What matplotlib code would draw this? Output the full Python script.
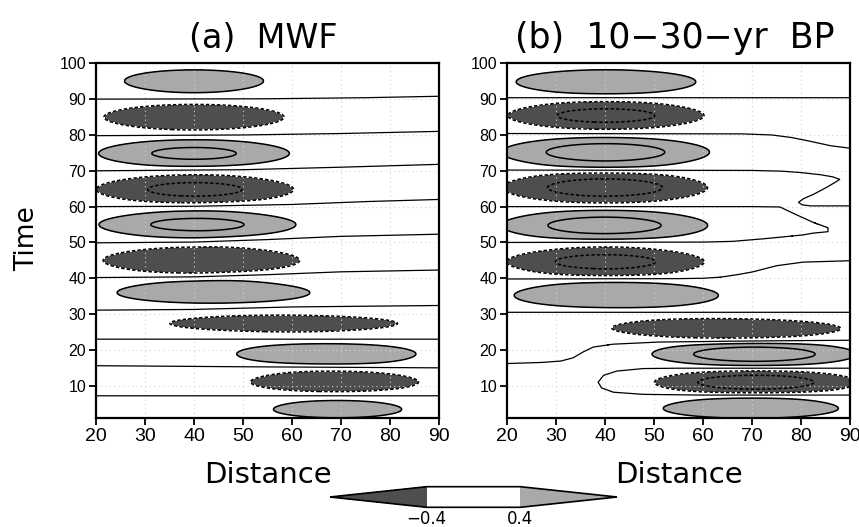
import numpy as np
import matplotlib
matplotlib.use("Agg")
import matplotlib.pyplot as plt
from matplotlib import font_manager
from matplotlib.colors import ListedColormap, BoundaryNorm
from matplotlib.cm import ScalarMappable

plt.rcParams["font.family"] = ["DejaVu Sans"]

# ---------------- axes / legend values ----------------
distance_ticks = [20, 30, 40, 50, 60, 70, 80, 90]
time_ticks = [10, 20, 30, 40, 50, 60, 70, 80, 90, 100]
shade_bounds = [-0.4, 0.4]
line_levels_neg = [-0.8, -0.4]
line_levels_pos = [0.4, 0.8]

# ---------------- (a) MWF ----------------
# anomaly centres: distance, time, half-length / half-height of the |0.4| contour, peak value
mwf_dist = [40.0, 40.0, 40.0, 40.2, 40.7, 41.5, 44.0, 58.3, 67.0, 68.7, 69.3]
mwf_time = [95.1, 85.0, 74.85, 64.8, 55.0, 45.0, 35.9, 27.4, 18.9, 11.0, 3.4]
mwf_halfx = [12.7, 16.5, 18.0, 18.7, 18.6, 18.0, 17.5, 20.8, 16.4, 15.3, 11.7]
mwf_halft = [2.75, 3.1, 3.35, 3.6, 3.25, 3.25, 2.6, 2.0, 2.7, 2.45, 2.1]
mwf_peak = [0.7, -0.7, 0.9, -0.94, 0.93, -0.7, 0.7, -0.7, 0.7, -0.7, 0.7]

# zero contours (distance, time vertices)
mwf_zero_x = [
    [20, 55, 75, 90],
    [20, 50, 70, 90],
    [20, 50, 70, 90],
    [20, 40, 60, 75, 90],
    [20, 40, 55, 70, 90],
    [20, 40, 55, 70, 90],
    [20, 40, 60, 90],
    [20, 90],
    [20, 50, 90],
    [20, 90],
]
mwf_zero_t = [
    [90.0, 90.1, 90.4, 90.8],
    [79.8, 80.0, 80.4, 81.0],
    [70.0, 70.3, 71.0, 71.8],
    [60.0, 60.1, 60.6, 61.4, 62.0],
    [49.9, 50.1, 50.8, 51.7, 52.3],
    [40.2, 40.4, 41.0, 41.8, 42.3],
    [31.1, 31.3, 32.0, 32.4],
    [23.0, 23.0],
    [15.6, 15.3, 15.0],
    [7.2, 7.2],
]

# ---------------- (b) 10-30-yr band-pass ----------------
bp_dist = [40.2, 40.2, 40.1, 40.0, 39.9, 40.1, 42.3, 64.9, 70.5, 70.8, 69.75]
bp_time = [94.85, 85.4, 75.2, 65.3, 54.75, 44.65, 35.2, 26.0, 18.8, 11.0, 3.65]
bp_halfx = [16.45, 18.6, 19.9, 19.6, 19.7, 18.7, 18.7, 20.8, 19.6, 19.4, 16.0]
bp_halft = [3.0, 3.4, 3.85, 3.9, 3.85, 3.45, 3.2, 2.35, 3.05, 3.1, 2.45]
bp_peak = [0.7, -0.96, 1.08, -1.06, 1.04, -0.97, 0.7, -0.7, 1.13, -1.08, 0.7]

bp_zero_x = [
    [20, 90],
    [20, 68, 74, 78, 82, 86, 90],
    [20, 70, 76, 80, 84, 86.5, 87.9, 87.0, 85.0, 82.5, 80.5, 79.5, 80.2, 82, 90],
    [20, 60, 70, 75.7, 79.1, 82.5, 85.5, 85.5, 82.5, 80.4, 76, 72.2, 66, 60, 20],
    [20, 55, 60, 63.5, 67, 70.2, 75, 80.4, 90],
    [20, 90],
    [20, 27, 31, 33.5, 35.5, 37.6, 41.6, 51, 70, 90],
    [90, 70, 55, 47.8, 42.4, 39.7, 38.6, 39.3, 41.7, 47.8, 59.4, 75, 90],
]
bp_zero_t = [
    [90.4, 90.4],
    [80.4, 80.3, 80.0, 79.3, 78.2, 77.0, 76.3],
    [70.2, 70.1, 69.9, 69.5, 68.9, 68.3, 67.6, 66.8, 65.2, 63.4, 62.2, 61.2, 60.5, 60.2, 60.2],
    [60.0, 60.0, 60.0, 59.9, 57.7, 55.6, 54.1, 53.0, 52.6, 52.1, 51.5, 51.0, 50.3, 50.1, 50.0],
    [39.8, 39.9, 40.0, 40.3, 41.0, 41.8, 43.5, 44.5, 44.9],
    [30.5, 30.5],
    [16.2, 16.5, 16.9, 17.8, 19.4, 20.8, 21.6, 22.2, 22.5, 22.7],
    [14.9, 14.9, 14.9, 14.8, 14.1, 12.9, 11.0, 9.4, 8.2, 7.6, 7.4, 7.4, 7.4],
]

DARK = "#4e4e4e"
LIGHT = "#a9a9a9"


def has_font(name):
    try:
        font_manager.findfont(font_manager.FontProperties(family=name),
                              fallback_to_default=False)
        return True
    except ValueError:
        return False


NARROW = has_font("Liberation Sans Narrow")
if NARROW:
    TICK_FONT, XT_SIZE, YT_SIZE = "Liberation Sans Narrow", 15.5, 12.5
    LABEL_FONT, TIME_SIZE = "Liberation Sans Narrow", 24
else:
    TICK_FONT, XT_SIZE, YT_SIZE = "Liberation Sans", 14, 11.5
    LABEL_FONT, TIME_SIZE = "DejaVu Sans", 19


def build_field(dist, time, halfx, halft, peak, zero_x, zero_t):
    """Signed anomaly field: sign flips across each zero contour,
    magnitude is a sum of elliptical Gaussian centres."""
    xg = np.linspace(20, 90, 701)
    tg = np.linspace(1, 100, 991)
    X, T = np.meshgrid(xg, tg)

    mag = np.full(X.shape, 0.05)
    for xc, tc, hx, ht, pk in zip(dist, time, halfx, halft, peak):
        k = np.sqrt(np.log(abs(pk) / 0.4))
        sx, st = hx / k, ht / k
        mag += abs(pk) * np.exp(-((X - xc) / sx) ** 2 - ((T - tc) / st) ** 2)

    # sign: parity of zero-contour crossings below each point (positive at the bottom)
    count = np.zeros(X.shape, dtype=int)
    dmin = np.full(X.shape, np.inf)
    xscale = 4.0
    Xs = X / xscale
    for px, pt in zip(zero_x, zero_t):
        px = list(px)
        pt = list(pt)
        # carry the end points just past the frame
        px = [px[0] + (-1 if px[0] <= 20 else 1)] + px + [px[-1] + (-1 if px[-1] <= 20 else 1)]
        pt = [pt[0]] + pt + [pt[-1]]
        for i in range(len(px) - 1):
            x0, t0, x1, t1 = px[i], pt[i], px[i + 1], pt[i + 1]
            if x0 != x1:
                lo, hi = min(x0, x1), max(x0, x1)
                inside = (xg >= lo) & (xg < hi)
                tc = t0 + (xg - x0) * (t1 - t0) / (x1 - x0)
                count += (inside[None, :] & (T > tc[None, :])).astype(int)
            ax_, bx = x0 / xscale, x1 / xscale
            dx, dt = bx - ax_, t1 - t0
            L2 = dx * dx + dt * dt
            if L2 == 0:
                d = np.hypot(Xs - ax_, T - t0)
            else:
                u = np.clip(((Xs - ax_) * dx + (T - t0) * dt) / L2, 0, 1)
                d = np.hypot(Xs - ax_ - u * dx, T - t0 - u * dt)
            dmin = np.minimum(dmin, d)

    sign = np.where(count % 2 == 0, 1.0, -1.0)
    F = sign * mag * np.tanh(dmin / 0.8)
    return X, T, F


def draw_panel(ax, field):
    X, T, F = field
    ax.contourf(X, T, F, levels=[-50, -0.4, 0.4, 50], colors=[DARK, "white", LIGHT],
                zorder=1)
    ax.contour(X, T, F, levels=line_levels_neg, colors="k", linewidths=1.1,
               linestyles=[(0, (2.2, 1.4))], zorder=3)
    ax.contour(X, T, F, levels=line_levels_pos, colors="k", linewidths=1.1,
               linestyles="solid", zorder=3)
    ax.contour(X, T, F, levels=[0.0], colors="k", linewidths=0.9,
               linestyles="solid", zorder=3)
    ax.set_xlim(20, 90)
    ax.set_ylim(1, 100)
    ax.set_xticks(distance_ticks)
    ax.set_yticks(time_ticks)
    ax.grid(True, color="#d2d2d2", linestyle=(0, (1, 3)), linewidth=0.8, zorder=2)
    ax.set_axisbelow(False)
    for s in ax.spines.values():
        s.set_linewidth(1.6)
        s.set_zorder(5)
    ax.tick_params(axis="both", direction="out", length=5, width=1.3, pad=2)
    ax.tick_params(axis="x", labelsize=XT_SIZE, labelfontfamily=TICK_FONT)
    ax.tick_params(axis="y", labelsize=YT_SIZE, labelfontfamily=TICK_FONT)
    ax.set_xlabel("Distance", fontsize=21)
    ax.xaxis.set_label_coords(0.5, -0.162)
    ax.xaxis.label.set_verticalalignment("center")


fig = plt.figure(figsize=(8.59, 5.27), dpi=100)
W, H = 859.0, 527.0
bottom = (H - 418) / H
height = 354.7 / H
axA = fig.add_axes([96 / W, bottom, 343 / W, height])
axB = fig.add_axes([507 / W, bottom, 343 / W, height])

draw_panel(axA, build_field(mwf_dist, mwf_time, mwf_halfx, mwf_halft, mwf_peak,
                            mwf_zero_x, mwf_zero_t))
draw_panel(axB, build_field(bp_dist, bp_time, bp_halfx, bp_halft, bp_peak,
                            bp_zero_x, bp_zero_t))

axA.set_ylabel("Time", fontsize=TIME_SIZE, family=LABEL_FONT)
axA.yaxis.set_label_coords(-0.2, 0.507)
axA.yaxis.label.set_verticalalignment("center")

fig.text(263 / W, 1 - 48 / H, "(a)  MWF", fontsize=24, ha="center", va="baseline")
fig.text(675 / W, 1 - 48 / H, "(b)  10\u221230\u2212yr  BP", fontsize=25, ha="center",
         va="baseline")

# shading key: interior box plus pointed ends
cax = fig.add_axes([330 / W, (H - 507.3) / H, 287 / W, 20.6 / H])
cmap = ListedColormap(["white"]).with_extremes(under=DARK, over=LIGHT)
norm = BoundaryNorm(shade_bounds, cmap.N)
cb = fig.colorbar(ScalarMappable(norm=norm, cmap=cmap), cax=cax, orientation="horizontal",
                  extend="both", extendfrac=1.03, ticks=shade_bounds)
cb.outline.set_linewidth(1.2)
cb.ax.tick_params(length=0, labelsize=12, pad=2)
cb.ax.set_xticklabels(["\u22120.4", "0.4"])

fig.savefig("out.png", dpi=100)
